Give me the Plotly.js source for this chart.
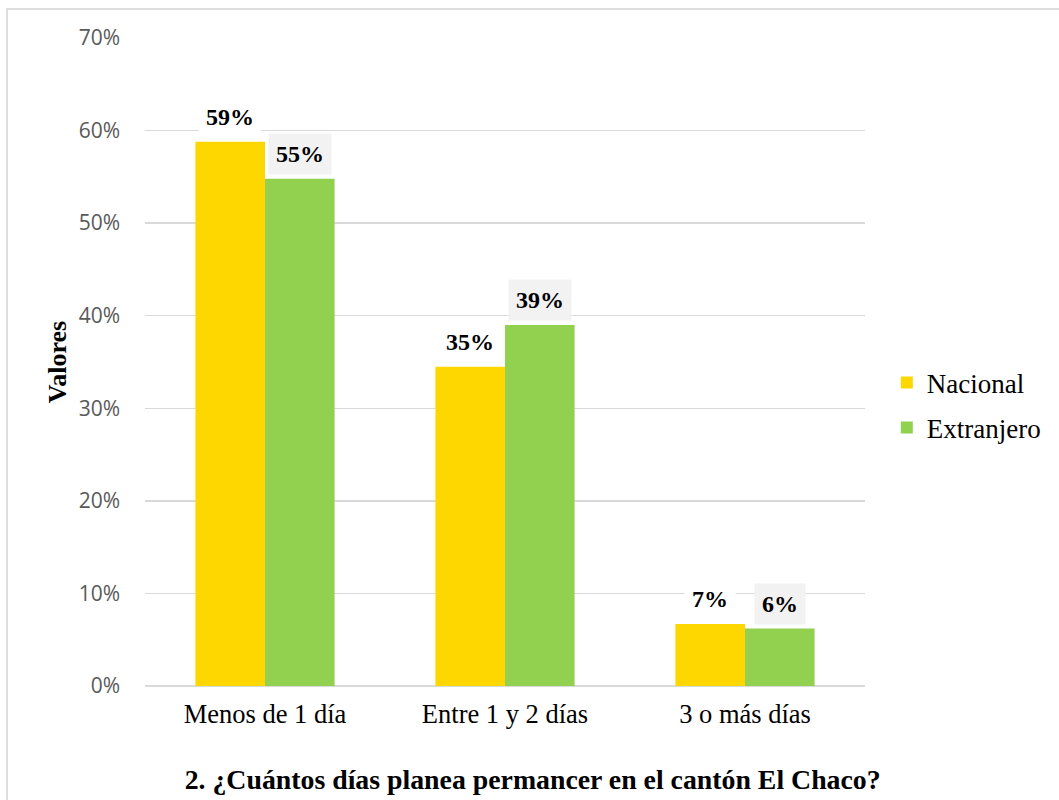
<!DOCTYPE html>
<html>
<head>
<meta charset="utf-8">
<script src="https://cdn.plot.ly/plotly-3.0.1.min.js"></script>
<style>
  html, body { margin: 0; padding: 0; background: #fff; }
  #wrap { position: relative; width: 1059px; height: 800px; overflow: hidden; }
  #chart { width: 1059px; height: 800px; }
  #frame { position: absolute; left: 6px; top: 8px; width: 1200px; height: 1000px;
           border-left: 2px solid #dedede; border-top: 2px solid #dedede; pointer-events: none; }
</style>
</head>
<body>
<div id="wrap">
  <div id="chart"></div>
  <div id="frame"></div>
</div>
<script>
const categories = ["Menos de 1 día", "Entre 1 y 2 días", "3 o más días"];
const nacional = [58.8, 34.5, 6.7];
const extranjero = [54.8, 39.0, 6.2];
const seriesNames = ["Nacional", "Extranjero"];
const yTicks = [0, 10, 20, 30, 40, 50, 60, 70];
const chartTitle = "2. ¿Cuántos días planea permancer en el cantón El Chaco?";
const yTitle = "Valores";

const colors = ["#FFD700", "#92D050"];
const labelBg = ["#FFFFFF", "#F2F2F2"];
const series = [nacional, extranjero];
const serif = "Liberation Serif, Times New Roman, serif";

const traces = series.map((vals, i) => ({
  type: "bar",
  name: seriesNames[i],
  x: categories,
  y: vals,
  marker: { color: colors[i] },
  legendgroup: "g" + i,
  hoverinfo: "skip"
}));

const annotations = [];
series.forEach((vals, i) => {
  vals.forEach((v, j) => {
    annotations.push({
      xref: "x", yref: "y",
      x: categories[j], y: v,
      xshift: i === 0 ? -34.8 : 34.8,
      yshift: 25,
      yanchor: "middle",
      text: "<b>" + Math.round(v) + "%</b>",
      showarrow: false,
      bgcolor: labelBg[i],
      borderpad: 7,
      font: { family: serif, size: 24, color: "#000" }
    });
  });
});

annotations.push({
  xref: "paper", yref: "paper",
  x: -0.122, y: 0.5,
  xanchor: "center", yanchor: "middle",
  textangle: -90,
  text: "<b>" + yTitle + "</b>",
  showarrow: false,
  font: { family: serif, size: 26, color: "#000" }
});

const layout = {
  width: 1059, height: 800,
  margin: { l: 145, r: 194, t: 38, b: 114, autoexpand: false },
  paper_bgcolor: "#fff", plot_bgcolor: "#fff",
  barmode: "group",
  bargap: 0.42,
  bargroupgap: 0,
  showlegend: true,
  title: {
    text: "<b>" + chartTitle + "</b>",
    xref: "container", x: 0.503, xanchor: "center",
    yref: "container", y: 0.026, yanchor: "middle",
    font: { family: serif, size: 27.8, color: "#000" }
  },
  xaxis: {
    type: "category",
    showgrid: false,
    showline: false,
    ticks: "",
    automargin: false,
    tickfont: { family: serif, size: 26.5, color: "#000" },
    ticklabelstandoff: 9
  },
  yaxis: {
    range: [0, 70],
    tickvals: yTicks,
    ticktext: yTicks.map(t => t + "%"),
    showgrid: true,
    gridcolor: "#d9d9d9",
    gridwidth: 1.3,
    zeroline: true,
    zerolinecolor: "#d9d9d9",
    zerolinewidth: 1.3,
    showline: false,
    ticks: "",
    automargin: false,
    ticklabelstandoff: 24,
    tickfont: { family: "Open Sans, sans-serif", size: 21, color: "#595959" }
  },
  legend: {
    x: 1.0303, xanchor: "left",
    y: 0.433, yanchor: "middle",
    traceorder: "grouped",
    tracegroupgap: 7,
    font: { family: serif, size: 27, color: "#000" },
    bgcolor: "rgba(0,0,0,0)"
  },
  annotations: annotations
};

Plotly.newPlot("chart", traces, layout, { displayModeBar: false, staticPlot: true });
</script>
</body>
</html>
